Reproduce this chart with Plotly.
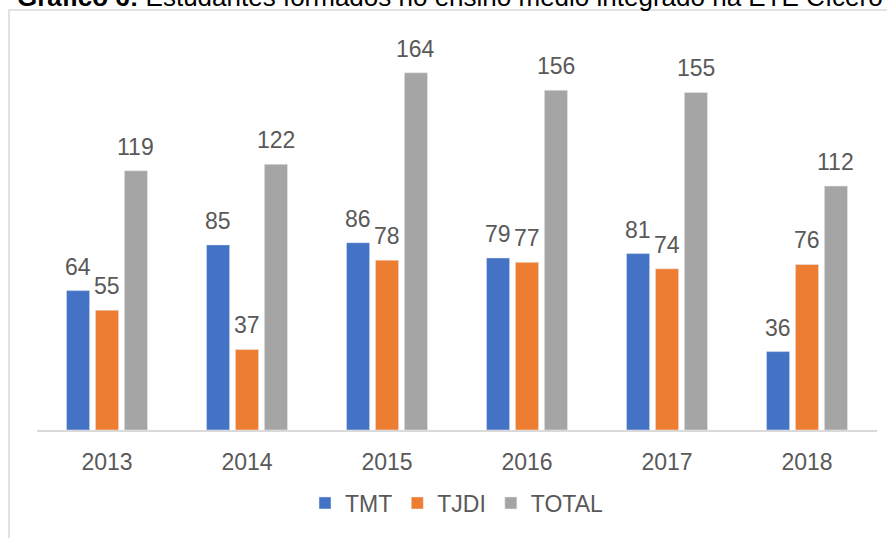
import plotly.graph_objects as go

years = ["2013", "2014", "2015", "2016", "2017", "2018"]
tmt = [64, 85, 86, 79, 81, 36]
tjdi = [55, 37, 78, 77, 74, 76]
total = [119, 122, 164, 156, 155, 112]

series = [("TMT", tmt, "#4472C4"), ("TJDI", tjdi, "#ED7D31"), ("TOTAL", total, "#A5A5A5")]

W, H = 887, 538
ml, mr, mt, mb = 37, 10, 38, 108
ph = H - mt - mb
pw = W - ml - mr
bargap = 0.38
slot = pw / len(years) * (1 - bargap) / len(series)

fig = go.Figure()
labels = []
for i, (name, vals, col) in enumerate(series):
    fig.add_trace(go.Bar(x=years, y=vals, name=name, marker_color=col))
    # value labels above each bar (category index, since years look numeric)
    for j, v in enumerate(vals):
        labels.append(dict(x=j, y=v, xref="x", yref="y", text=str(v),
                           showarrow=False, yanchor="bottom", yshift=9,
                           xshift=(i - 1) * slot,
                           font=dict(size=23, color="#595959")))

fig.update_layout(
    width=W, height=H,
    margin=dict(l=ml, r=mr, t=mt, b=mb),
    plot_bgcolor="white", paper_bgcolor="white",
    font=dict(family="Liberation Sans", color="#595959", size=23),
    barmode="group", bargap=bargap, bargroupgap=0.2,
    showlegend=True,
    legend=dict(orientation="h", x=0.5, xanchor="center",
                y=-(503 - (H - mb)) / ph, yanchor="middle",
                font=dict(size=23, color="#595959"), itemwidth=30),
    xaxis=dict(type="category", showline=True, linecolor="#d9d9d9", linewidth=1.5,
               ticks="", showgrid=False, ticklabelstandoff=11,
               tickfont=dict(size=23, color="#595959")),
    yaxis=dict(visible=False, range=[0, 180]),
    shapes=[dict(type="rect", xref="paper", yref="paper",
                 x0=(9 - ml) / pw, x1=1.2, y0=-0.5, y1=1 + (mt - 10) / ph,
                 line=dict(color="#d9d9d9", width=1.5), layer="below")],
    annotations=labels + [dict(xref="paper", yref="paper", x=(15 - ml) / pw, xanchor="left",
                               y=1 + (mt + 3) / ph, yanchor="middle", showarrow=False,
                               text="<b>Gráfico 6:</b> Estudantes formados no ensino médio integrado na ETE Cícero Dias",
                               font=dict(size=26, color="black"))],
)

fig.write_html("out.html", config={"displayModeBar": False},
               post_script="document.body.style.margin='0';")
